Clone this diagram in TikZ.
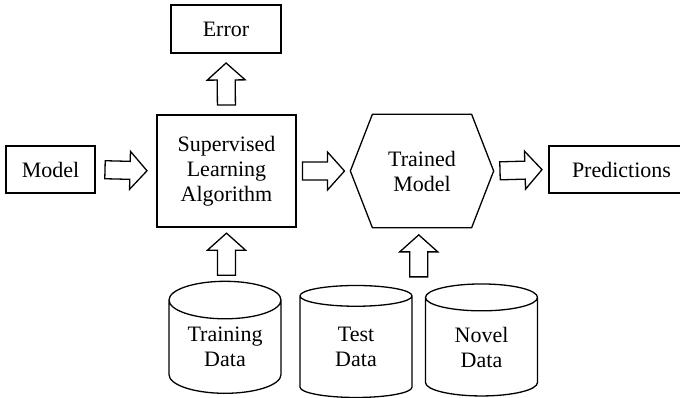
\documentclass[tikz,border=0pt]{standalone}
\usepackage{fontspec}
\setmainfont{Liberation Serif}
\usetikzlibrary{
    shapes.geometric,
    calc
}

% hollow block arrow between two points
\newcommand{\fatarrow}[2]{%
    \coordinate (fm) at ($(#1)!0.5!(#2)$);
    \coordinate (fs) at ($(fm)!21pt!(#1)$);
    \coordinate (fe) at ($(fm)!21pt!(#2)$);
    \coordinate (fh) at ($(fe)!17pt!(fs)$);
    \draw[blockarrow] ($(fs)!9pt!90:(fe)$) -- ($(fh)!9pt!90:(fe)$) -- ($(fh)!19pt!90:(fe)$) -- (fe)
        -- ($(fh)!19pt!-90:(fe)$) -- ($(fh)!9pt!-90:(fe)$) -- ($(fs)!9pt!-90:(fe)$) -- cycle;
}

\begin{document}
\begin{tikzpicture}[x=1pt,y=1pt,line width=1.3pt,font=\fontsize{22}{25}\selectfont]
    \tikzstyle{box}=[draw, rectangle, inner sep=0pt, align=center]
    \tikzstyle{store}=[draw, cylinder, shape border rotate=90, aspect=0.5, minimum width=112pt, minimum height=112pt, inner sep=0pt, align=center]
    \tikzstyle{blockarrow}=[draw, fill=white, line join=miter]
    \useasboundingbox (0,0) rectangle (680,397);
    \node[box, minimum width=110pt, minimum height=48pt] (err) at (226, 368){Error};
    \node[box, minimum width=139pt, minimum height=112pt] (sla) at (226.5, 226){Supervised\\Learning\\Algorithm};
    \node[box, minimum width=89pt, minimum height=47pt] (model) at (50.5, 227.5){Model};
    \node[box, draw=none, minimum width=98pt, minimum height=112pt] (trained) at (422, 226){Trained\\Model};
    \node[box, minimum width=145pt, minimum height=47pt] (pred) at (621.5, 227.5){Predictions};
    \node[store] (train) at (225, 50){Training\\Data};
    \node[store] (test) at (356, 50){Test\\Data};
    \node[store] (novel) at (481.5, 50){Novel\\Data};
    \coordinate (tl) at ([xshift=-22pt]trained.west);
    \coordinate (tr) at ([xshift=22pt]trained.east);
    \draw (trained.north west) -- (trained.north east) -- (tr) -- (trained.south east)
        -- (trained.south west) -- (tl) -- cycle;
    \coordinate (tn) at ($(test.north)!0.5!(novel.north)$);
    \fatarrow{model.east}{sla.west}
    \fatarrow{sla.east}{tl}
    \fatarrow{tr}{pred.west}
    \fatarrow{sla.north}{err.south}
    \fatarrow{sla.south |- train.north}{sla.south}
    \fatarrow{tn}{tn |- trained.south}
\end{tikzpicture}
\end{document}
